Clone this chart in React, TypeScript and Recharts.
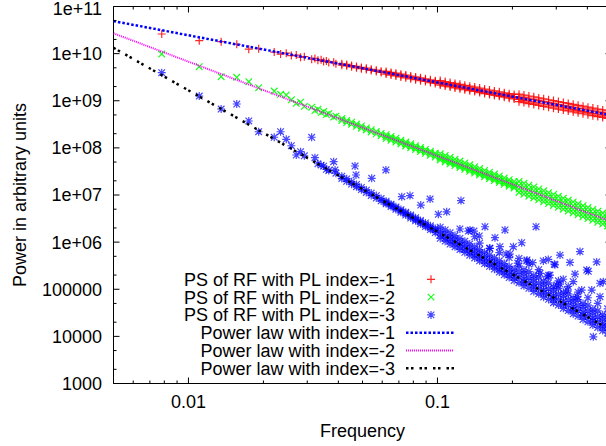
import { Legend, ReferenceArea, Scatter, ScatterChart, XAxis, YAxis } from "recharts";

const FONT = '"Liberation Sans", Arial, Helvetica, sans-serif';
const FS = 18;
const INK = "#000000";
const RED = "#ff0000";
const GREEN = "#00ff00";
const BLUE = "#0000ff";
const MAGENTA = "#ff00ff";

// plot box (px) inside the 620x446 chart
const PLOT_LEFT = 113.5;
const PLOT_RIGHT = 611.5;
const PLOT_TOP = 6.5;
const PLOT_BOTTOM = 383.5;

const X_DOMAIN = [0.005, 0.5];
const Y_DOMAIN = [1000, 1e11];
const X_MAJOR = [0.01, 0.1];
const X_LABELS = ["0.01", "0.1"];
const X_MINOR = [0.006, 0.007, 0.008, 0.009, 0.02, 0.03, 0.04, 0.05, 0.06, 0.07, 0.08, 0.09, 0.2, 0.3, 0.4];
const Y_MAJOR = [1e3, 1e4, 1e5, 1e6, 1e7, 1e8, 1e9, 1e10, 1e11];
const Y_LABELS = ["1000", "10000", "100000", "1e+06", "1e+07", "1e+08", "1e+09", "1e+10", "1e+11"];
const Y_MINOR = [2e3, 5e3, 2e4, 5e4, 2e5, 5e5, 2e6, 5e6, 2e7, 5e7, 2e8, 5e8, 2e9, 5e9, 2e10, 5e10];

const LEGEND_NAMES = [
  "PS of RF with PL index=-1",
  "PS of RF with PL index=-2",
  "PS of RF with PL index=-3",
  "Power law with index=-1",
  "Power law with index=-2",
  "Power law with index=-3",
];

// low frequencies: one mark each
const FREQ_LOW = [0.00781, 0.01105, 0.01353, 0.01563, 0.01747, 0.01914, 0.0221, 0.02344, 0.0247, 0.0259, 0.0271, 0.0282, 0.0292, 0.03125, 0.0322, 0.0331, 0.0341, 0.0349, 0.0358, 0.0366, 0.0383, 0.0391];
const PS1_LOW = [2.61e10, 1.88e10, 1.79e10, 1.58e10, 1.24e10, 1.27e10, 1.08e10, 9.8e9, 1.02e10, 9.1e9, 9.3e9, 8.4e9, 8.6e9, 7.6e9, 7.9e9, 7.2e9, 7.4e9, 6.8e9, 7.0e9, 6.5e9, 6.6e9, 6.1e9];
const PS2_LOW = [9.8e9, 5.28e9, 3.24e9, 3.15e9, 2.54e9, 1.89e9, 1.61e9, 1.37e9, 1.32e9, 1.05e9, 8.8e8, 9.3e8, 7.6e8, 7.3e8, 6.2e8, 6.6e8, 5.6e8, 5.9e8, 5.1e8, 5.3e8, 4.5e8, 4.7e8];
const PS3_LOW = [3.94e9, 1.26e9, 6.68e8, 8.53e8, 3.72e8, 2.2e8, 1.68e8, 2.2e8, 1.52e8, 1.11e8, 7.06e7, 8.3e7, 6.8e7, 1.68e8, 6.19e7, 4.6e7, 4.3e7, 4.1e7, 3.5e7, 3.3e7, 5.1e7, 2.9e7];

// dense part: several marks per frequency column
const FREQ_BAND = [
  0.0413, 0.0432, 0.0452, 0.0473, 0.0495, 0.0518, 0.0542, 0.0568, 0.0594,
  0.0622, 0.0651, 0.0681, 0.0713, 0.0746, 0.0781, 0.0817, 0.0855, 0.0895, 0.0937, 0.098,
  0.1026, 0.1074, 0.1124, 0.1176, 0.1231, 0.1288, 0.1348, 0.1411, 0.1477, 0.1546,
  0.1618, 0.1693, 0.1772, 0.1855, 0.1941, 0.2032, 0.2126, 0.2225, 0.2329, 0.2437,
  0.2551, 0.267, 0.2794, 0.2924, 0.306, 0.3203, 0.3352, 0.3508, 0.3671, 0.3842,
  0.4021, 0.4208, 0.4404, 0.4609, 0.4824,
];
const PS1_BAND = [
  [6.1e9, 5.7e9], [5.5e9, 5.9e9], [5.6e9, 5.25e9], [5.0e9, 5.35e9], [5.1e9, 4.8e9], [4.6e9, 4.9e9], [4.65e9, 4.38e9], [4.2e9, 4.45e9], [4.25e9, 3.98e9],
  [4.2e9, 3.68e9, 3.95e9], [3.5e9, 4.0e9, 3.8e9], [3.85e9, 3.36e9, 3.62e9], [3.2e9, 3.66e9, 3.42e9], [3.5e9, 3.06e9, 3.3e9], [2.92e9, 3.35e9, 3.12e9],
  [3.2e9, 2.8e9, 3.02e9], [2.67e9, 3.06e9, 2.86e9], [2.93e9, 2.56e9, 2.76e9], [2.43e9, 2.79e9, 2.6e9], [2.67e9, 2.33e9, 2.52e9],
  [2.68e9, 2.15e9, 2.44e9, 2.29e9], [2.05e9, 2.55e9, 2.2e9, 2.33e9], [2.44e9, 1.96e9, 2.22e9, 2.09e9], [1.87e9, 2.33e9, 2.0e9, 2.12e9],
  [2.23e9, 1.79e9, 2.03e9, 1.91e9], [1.71e9, 2.13e9, 1.82e9, 1.94e9], [2.04e9, 1.64e9, 1.86e9, 1.75e9], [1.57e9, 1.95e9, 1.67e9, 1.77e9],
  [1.86e9, 1.49e9, 1.69e9, 1.59e9], [1.42e9, 1.77e9, 1.52e9, 1.61e9], [1.69e9, 1.36e9, 1.54e9, 1.45e9], [1.3e9, 1.62e9, 1.39e9, 1.48e9],
  [1.55e9, 1.24e9, 1.41e9, 1.32e9], [1.19e9, 1.48e9, 1.27e9, 1.35e9], [1.41e9, 1.13e9, 1.29e9, 1.21e9], [1.09e9, 1.36e9, 1.16e9, 1.23e9],
  [1.38e9, 9.55e8, 1.21e9, 1.07e9], [9.13e8, 1.32e9, 1.02e9, 1.16e9], [1.26e9, 8.72e8, 1.1e9, 9.77e8], [8.34e8, 1.21e9, 9.35e8, 1.06e9],
  [1.15e9, 7.97e8, 1.01e9, 8.93e8], [7.62e8, 1.1e9, 8.54e8, 9.64e8], [1.05e9, 7.28e8, 9.21e8, 8.16e8], [6.96e8, 1.01e9, 7.79e8, 8.8e8],
  [9.61e8, 6.65e8, 8.41e8, 7.45e8], [6.35e8, 9.18e8, 7.11e8, 8.03e8], [8.77e8, 6.07e8, 7.68e8, 6.8e8], [5.79e8, 8.38e8, 6.49e8, 7.33e8],
  [8.0e8, 5.54e8, 7.0e8, 6.2e8], [5.3e8, 7.66e8, 5.93e8, 6.7e8], [7.31e8, 5.05e8, 6.39e8, 5.66e8], [4.83e8, 6.98e8, 5.41e8, 6.11e8],
  [6.67e8, 4.61e8, 5.84e8, 5.17e8], [4.42e8, 6.38e8, 4.95e8, 5.59e8], [6.1e8, 4.22e8, 5.33e8, 4.72e8],
];
const PS2_BAND = [
  [4.2e8, 3.8e8], [3.45e8, 3.8e8], [3.5e8, 3.15e8], [2.88e8, 3.2e8], [2.92e8, 2.62e8], [2.4e8, 2.66e8], [2.44e8, 2.18e8], [1.98e8, 2.22e8], [2.03e8, 1.81e8],
  [1.91e8, 1.58e8, 1.74e8], [1.45e8, 1.75e8, 1.6e8], [1.61e8, 1.33e8, 1.46e8], [1.21e8, 1.46e8, 1.34e8], [1.33e8, 1.1e8, 1.21e8], [1.01e8, 1.22e8, 1.11e8],
  [1.11e8, 9.2e7, 1.01e8], [8.4e7, 1.015e8, 9.2e7], [9.27e7, 7.67e7, 8.43e7], [7.0e7, 8.46e7, 7.7e7], [7.73e7, 6.4e7, 7.03e7],
  [7.56e7, 5.51e7, 6.6e7, 6.03e7], [5.03e7, 6.9e7, 5.5e7, 6.03e7], [6.3e7, 4.59e7, 5.5e7, 5.02e7], [4.2e7, 5.76e7, 4.59e7, 5.03e7],
  [5.25e7, 3.83e7, 4.58e7, 4.18e7], [3.5e7, 4.8e7, 3.83e7, 4.19e7], [4.38e7, 3.19e7, 3.82e7, 3.49e7], [2.92e7, 4.0e7, 3.19e7, 3.49e7],
  [3.65e7, 2.66e7, 3.18e7, 2.9e7], [2.43e7, 3.33e7, 2.65e7, 2.9e7], [3.04e7, 2.22e7, 2.66e7, 2.43e7], [2.03e7, 2.78e7, 2.22e7, 2.43e7],
  [2.54e7, 1.85e7, 2.21e7, 2.02e7], [1.69e7, 2.31e7, 1.84e7, 2.02e7], [2.11e7, 1.54e7, 1.84e7, 1.68e7], [1.41e7, 1.93e7, 1.54e7, 1.68e7],
  [1.94e7, 1.13e7, 1.61e7, 1.34e7], [1.04e7, 1.77e7, 1.23e7, 1.47e7], [1.62e7, 9.45e6, 1.34e7, 1.12e7], [8.64e6, 1.48e7, 1.02e7, 1.23e7],
  [1.35e7, 7.88e6, 1.12e7, 9.33e6], [7.2e6, 1.23e7, 8.52e6, 1.02e7], [1.12e7, 6.57e6, 9.34e6, 7.79e6], [6.0e6, 1.03e7, 7.1e6, 8.52e6],
  [9.37e6, 5.48e6, 7.79e6, 6.49e6], [5.0e6, 8.55e6, 5.92e6, 7.1e6], [7.81e6, 4.57e6, 6.49e6, 5.41e6], [4.17e6, 7.14e6, 4.94e6, 5.93e6],
  [6.51e6, 3.81e6, 5.41e6, 4.51e6], [3.47e6, 5.94e6, 4.11e6, 4.94e6], [5.42e6, 3.17e6, 4.5e6, 3.75e6], [2.9e6, 4.95e6, 3.43e6, 4.11e6],
  [4.52e6, 2.64e6, 3.76e6, 3.13e6], [2.42e6, 4.13e6, 2.86e6, 3.43e6], [3.77e6, 2.2e6, 3.13e6, 2.61e6],
];
const PS3_BAND = [
  [2.5e7, 2.25e7], [1.95e7, 2.2e7], [1.9e7, 1.7e7], [1.5e7, 1.68e7], [1.45e7, 1.3e7], [1.13e7, 1.27e7], [1.1e7, 9.8e6], [8.6e6, 9.7e6], [8.4e6, 7.5e6],
  [6.5e6, 7.4e6, 6.9e6], [6.4e6, 5.7e6, 6.1e6], [4.95e6, 5.6e6, 5.3e6], [4.9e6, 4.3e6, 4.6e6], [3.75e6, 4.3e6, 4.05e6], [3.75e6, 3.25e6, 3.5e6],
  [2.83e6, 3.3e6, 3.05e6], [2.88e6, 2.45e6, 2.7e6], [2.14e6, 2.55e6, 2.35e6], [2.22e6, 1.85e6, 2.05e6], [1.6e6, 1.95e6, 1.8e6],
  [2.08e6, 1.2e6, 1.69e6, 1.42e6], [1.05e6, 1.81e6, 1.23e6, 1.47e6], [1.58e6, 9.1e5, 1.29e6, 1.08e6], [7.96e5, 1.38e6, 9.4e5, 1.12e6],
  [1.2e6, 6.94e5, 9.79e5, 8.19e5, 1.9e6], [6.06e5, 1.05e6, 7.15e5, 8.55e5], [9.15e5, 5.29e5, 7.46e5, 6.24e5], [4.61e5, 7.98e5, 5.44e5, 6.5e5, 1.3e6],
  [6.95e5, 4.02e5, 5.67e5, 4.74e5, 9.5e5], [3.5e5, 6.06e5, 4.13e5, 4.94e5], [5.29e5, 3.06e5, 4.31e5, 3.61e5, 7.4e5], [2.67e5, 4.62e5, 3.15e5, 3.76e5],
  [4.02e5, 2.32e5, 3.28e5, 2.74e5, 6.0e5], [2.03e5, 3.51e5, 2.39e5, 2.86e5], [3.06e5, 1.77e5, 2.5e5, 2.09e5, 4.7e5], [1.54e5, 2.67e5, 1.82e5, 2.18e5],
  [3.11e5, 1.38e5, 2.34e5, 1.82e5, 4.5e5], [1.18e5, 2.57e5, 1.66e5, 2.11e5, 1.43e5], [2.36e5, 1.05e5, 1.77e5, 1.38e5, 3.41e5], [8.97e4, 1.96e5, 1.27e5, 1.61e5, 1.09e5],
  [1.8e5, 8.0e4, 1.35e5, 1.05e5, 2.6e5], [6.8e4, 1.48e5, 9.59e4, 1.22e5, 8.28e4], [1.37e5, 6.09e4, 1.03e5, 7.99e4, 1.98e5], [5.18e4, 1.13e5, 7.3e4, 9.3e4, 6.31e4],
  [1.04e5, 4.63e4, 7.82e4, 6.08e4, 1.51e5], [3.94e4, 8.59e4, 5.56e4, 7.07e4, 4.8e4], [7.94e4, 3.53e4, 5.95e4, 4.63e4, 1.15e5], [3.0e4, 6.55e4, 4.24e4, 5.39e4, 3.66e4],
  [6.05e4, 2.69e4, 4.54e4, 3.53e4, 8.7e4], [2.29e4, 4.98e4, 3.22e4, 4.1e4, 2.78e4], [4.59e4, 2.04e4, 3.44e4, 2.68e4, 6.6e4], [1.74e4, 3.79e4, 2.45e4, 3.12e4, 2.12e4],
  [3.49e4, 1.55e4, 2.62e4, 2.04e4, 5.0e4], [1.33e4, 2.89e4, 1.87e4, 2.38e4, 1.62e4], [2.66e4, 1.18e4, 2.0e4, 1.55e4, 3.85e4],
];
// scattered index -3 marks away from the band: [frequency, power]
const PS3_STRAY = [
  [0.0388, 3.4e7], [0.04666, 4.12e7], [0.0471, 2.66e7], [0.05445, 2.26e7], [0.0621, 3.4e7], [0.0719, 9.2e6], [0.0776, 9.7e6],
  [0.0857, 6.1e6], [0.0934, 8.2e6], [0.1243, 7.6e6], [0.1089, 4.4e6], [0.1008, 3.9e6], [0.133, 1.72e6], [0.1402, 1.72e6],
  [0.1472, 1.35e6], [0.1552, 2.12e6], [0.1702, 1.24e6], [0.1867, 1.81e6], [0.1626, 7.4e5], [0.1782, 8.0e5], [0.2017, 8.0e5],
  [0.218, 9.7e5], [0.1885, 5.6e5], [0.1956, 5.6e5], [0.2488, 2.12e6], [0.2283, 4.0e5], [0.2101, 3.6e5], [0.2662, 4.0e5],
  [0.2787, 4.3e5], [0.3106, 5.3e5], [0.3405, 3.7e5], [0.3736, 6.3e5], [0.436, 3.8e5], [0.4035, 2.4e5], [0.32, 1.63e5],
  [0.3512, 1.45e5], [0.4634, 1.45e5], [0.3013, 1.23e5], [0.3796, 9.6e4], [0.4164, 9.6e4], [0.4496, 6.95e4], [0.4225, 9.8e3],
  [0.2966, 3.3e5], [0.3568, 2.1e5], [0.2831, 2.0e5], [0.4496, 1.34e5], [0.3976, 2.56e5], [0.2582, 2.18e5], [0.276, 1.85e5],
  [0.3106, 1.29e5], [0.3322, 9.6e4], [0.3644, 6.95e4], [0.2289, 4.2e5], [0.2413, 3.66e5], [0.2946, 3.4e5], [0.1351, 1.8e6],
];

// fitted power laws, end points at the edges of the frequency range
const PL_FREQ = [0.005, 0.5];
const PL_IDX1 = [4.9e10, 4.9e8];
const PL_IDX2 = [2.7e10, 2.7e6];
const PL_IDX3 = [1.33e10, 1.33e4];

type Pt = { f: number; p: number };

const toPoints = (freqs: number[], values: number[]): Pt[] => values.map((p, i) => ({ f: freqs[i], p }));
const bandPoints = (cols: number[][]): Pt[] => cols.flatMap((vals, i) => vals.map((p) => ({ f: FREQ_BAND[i], p })));

const ps1 = [...toPoints(FREQ_LOW, PS1_LOW), ...bandPoints(PS1_BAND)];
const ps2 = [...toPoints(FREQ_LOW, PS2_LOW), ...bandPoints(PS2_BAND)];
const ps3 = [...toPoints(FREQ_LOW, PS3_LOW), ...bandPoints(PS3_BAND), ...PS3_STRAY.map(([f, p]) => ({ f, p }))];
const pl1 = toPoints(PL_FREQ, PL_IDX1);
const pl2 = toPoints(PL_FREQ, PL_IDX2);
const pl3 = toPoints(PL_FREQ, PL_IDX3);

const R = 4;

function PlusMark({ cx, cy }: any) {
  return <path d={`M${cx - R},${cy}H${cx + R}M${cx},${cy - R}V${cy + R}`} stroke={RED} strokeWidth={1.2} strokeOpacity={0.85} fill="none" />;
}

function CrossMark({ cx, cy }: any) {
  const r = 3.3;
  return <path d={`M${cx - r},${cy - r}L${cx + r},${cy + r}M${cx - r},${cy + r}L${cx + r},${cy - r}`} stroke={GREEN} strokeWidth={1.2} strokeOpacity={0.9} fill="none" />;
}

function StarMark({ cx, cy }: any) {
  const r = 3.3;
  return (
    <path
      d={`M${cx - R},${cy}H${cx + R}M${cx},${cy - R}V${cy + R}M${cx - r},${cy - r}L${cx + r},${cy + r}M${cx - r},${cy + r}L${cx + r},${cy - r}`}
      stroke={BLUE}
      strokeWidth={1.2}
      strokeOpacity={0.72}
      fill="none"
    />
  );
}

const NoMark = () => <g />;

const LINE_STYLES = [
  { stroke: BLUE, strokeWidth: 2.5, strokeDasharray: "2.5 2" },
  { stroke: MAGENTA, strokeWidth: 2, strokeDasharray: "1 1" },
  { stroke: INK, strokeWidth: 2.5, strokeDasharray: "2.5 2.5 2.5 6" },
];

function FreqTick(props: any) {
  const { x, payload } = props;
  const idx = X_MAJOR.indexOf(payload.value);
  const len = idx >= 0 ? 6 : 3;
  return (
    <g>
      <line x1={x} x2={x} y1={PLOT_BOTTOM} y2={PLOT_BOTTOM - len} stroke={INK} />
      <line x1={x} x2={x} y1={PLOT_TOP} y2={PLOT_TOP + len} stroke={INK} />
      {idx >= 0 && (
        <text x={x} y={408} textAnchor="middle" fontSize={FS} fontFamily={FONT} fill={INK}>
          {X_LABELS[idx]}
        </text>
      )}
    </g>
  );
}

function PowerTick(props: any) {
  const { y, payload } = props;
  const idx = Y_MAJOR.indexOf(payload.value);
  const len = idx >= 0 ? 6 : 3;
  return (
    <g>
      <line x1={PLOT_LEFT} x2={PLOT_LEFT + len} y1={y} y2={y} stroke={INK} />
      <line x1={PLOT_RIGHT} x2={PLOT_RIGHT - len} y1={y} y2={y} stroke={INK} />
      {idx >= 0 && (
        <text x={102} y={Math.max(y + 6.4, 14.5)} textAnchor="end" fontSize={FS} fontFamily={FONT} fill={INK}>
          {Y_LABELS[idx]}
        </text>
      )}
    </g>
  );
}

const XTitle = () => (
  <text x={(PLOT_LEFT + PLOT_RIGHT) / 2} y={437} textAnchor="middle" fontSize={FS} fontFamily={FONT} fill={INK}>
    Frequency
  </text>
);

const YTitle = () => {
  const cy = (PLOT_TOP + PLOT_BOTTOM) / 2;
  return (
    <text x={25.5} y={cy} transform={`rotate(-90, 25.5, ${cy})`} textAnchor="middle" fontSize={FS} fontFamily={FONT} fill={INK}>
      Power in arbitrary units
    </text>
  );
};

function KeyBox() {
  const marks = [PlusMark, CrossMark, StarMark];
  return (
    <svg width={620} height={446} style={{ position: "absolute", left: 0, top: 0 }}>
      {LEGEND_NAMES.map((name, i) => {
        const y = 279.3 + 17.8 * i;
        const Mark = marks[i];
        const ls = LINE_STYLES[i - 3];
        return (
          <g key={name}>
            <text x={395} y={y + 6.4} textAnchor="end" fontSize={FS} fontFamily={FONT} fill={INK}>
              {name}
            </text>
            {i < 3 ? <Mark cx={431} cy={y} /> : <line x1={406} x2={454} y1={y} y2={y} {...ls} />}
          </g>
        );
      })}
    </svg>
  );
}

export default function App() {
  return (
    <div style={{ position: "fixed", left: 0, top: 0, width: 606, height: 446, overflow: "hidden", background: "#fff" }}>
      <ScatterChart width={620} height={446} margin={{ top: PLOT_TOP, right: 620 - PLOT_RIGHT, bottom: 0, left: 0 }}>
        <XAxis
          type="number"
          dataKey="f"
          scale="log"
          domain={X_DOMAIN}
          allowDataOverflow
          ticks={[...X_MAJOR, ...X_MINOR]}
          interval={0}
          tick={<FreqTick />}
          tickLine={false}
          axisLine={{ stroke: INK }}
          height={446 - PLOT_BOTTOM}
          label={<XTitle />}
        />
        <YAxis
          type="number"
          dataKey="p"
          scale="log"
          domain={Y_DOMAIN}
          allowDataOverflow
          ticks={[...Y_MAJOR, ...Y_MINOR]}
          interval={0}
          tick={<PowerTick />}
          tickLine={false}
          axisLine={{ stroke: INK }}
          width={PLOT_LEFT}
          label={<YTitle />}
        />
        <ReferenceArea x1={X_DOMAIN[0]} x2={X_DOMAIN[1]} y1={Y_DOMAIN[0]} y2={Y_DOMAIN[1]} fill="none" stroke={INK} strokeWidth={1} />
        <Scatter name={LEGEND_NAMES[0]} data={ps1} shape={PlusMark} isAnimationActive={false} />
        <Scatter name={LEGEND_NAMES[1]} data={ps2} shape={CrossMark} isAnimationActive={false} />
        <Scatter name={LEGEND_NAMES[2]} data={ps3} shape={StarMark} isAnimationActive={false} />
        <Scatter name={LEGEND_NAMES[3]} data={pl1} shape={NoMark} line={LINE_STYLES[0]} isAnimationActive={false} />
        <Scatter name={LEGEND_NAMES[4]} data={pl2} shape={NoMark} line={LINE_STYLES[1]} isAnimationActive={false} />
        <Scatter name={LEGEND_NAMES[5]} data={pl3} shape={NoMark} line={LINE_STYLES[2]} isAnimationActive={false} />
        <Legend
          layout="vertical"
          align="center"
          verticalAlign="middle"
          content={() => <KeyBox />}
          wrapperStyle={{ position: "absolute", left: 0, top: 0, width: 620, height: 446, pointerEvents: "none" }}
        />
      </ScatterChart>
    </div>
  );
}
